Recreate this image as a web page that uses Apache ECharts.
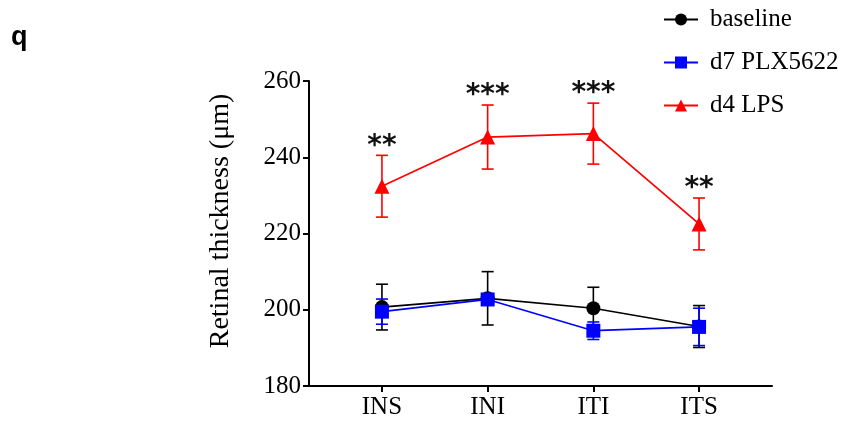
<!DOCTYPE html>
<html><head><meta charset="utf-8">
<script src="https://cdn.jsdelivr.net/npm/echarts@6/dist/echarts.min.js"></script>
<style>html,body{margin:0;padding:0;background:#fff}#c{width:843px;height:428px}</style>
</head><body><div id="c"></div>
<script>
const categories = ['INS', 'INI', 'ITI', 'ITS'];
const yTicks = [180, 200, 220, 240, 260];
const baselineMean = [200.7, 203.0, 200.4, 195.6];
const baselineErr  = [6.0, 7.0, 5.5, 5.5];
const plxMean = [199.5, 202.7, 194.5, 195.5];
const plxErr  = [3.3, 1.0, 2.3, 4.9];
const lpsMean = [232.4, 245.3, 246.2, 222.5];
const lpsErr  = [8.1, 8.4, 8.0, 6.8];
const lpsStars = ['**', '***', '***', '**'];
const yTitle = 'Retinal thickness (μm)';

const SERIF = '"Liberation Serif", "Times New Roman", serif';
const chart = echarts.init(document.getElementById('c'), null, {renderer: 'canvas'});

function pts(arr) { return arr.map((v, i) => [i, v]); }
function errSeries(name, mean, err, color, stars) {
  return {
    type: 'custom', name: name, z: 1,
    data: mean.map((m, i) => [i, m, err[i]]),
    renderItem: function (params, api) {
      const i = api.value(0), m = api.value(1), e = api.value(2);
      const top = api.coord([i, m + e]);
      const bot = api.coord([i, m - e]);
      const hw = 6;
      const style = {stroke: color, lineWidth: 1.6};
      const children = [
        {type: 'line', shape: {x1: top[0], y1: top[1], x2: bot[0], y2: bot[1]}, style: style},
        {type: 'line', shape: {x1: top[0] - hw, y1: top[1], x2: top[0] + hw, y2: top[1]}, style: style},
        {type: 'line', shape: {x1: bot[0] - hw, y1: bot[1], x2: bot[0] + hw, y2: bot[1]}, style: style}
      ];
      if (stars) {
        children.push({type: 'text', x: top[0], y: top[1] + 5,
          style: {text: stars[params.dataIndex], fill: '#111', font: 'bold 28px "DejaVu Sans"',
            align: 'center', verticalAlign: 'bottom'}});
      }
      return {type: 'group', children: children};
    }
  };
}
function lineSeries(name, mean, color, symbol, size) {
  return {
    type: 'line', name: name, z: 3, data: pts(mean),
    symbol: symbol, symbolSize: size, showAllSymbol: true,
    lineStyle: {color: color, width: 1.7},
    itemStyle: {color: color},
    emphasis: {disabled: true}
  };
}

chart.setOption({
  animation: false,
  backgroundColor: '#fff',
  graphic: [
    {type: 'text', left: 11, top: 24, style: {text: 'q', font: 'bold 27px "Liberation Sans", Arial', fill: '#000'}},
    {type: 'text', x: 221, y: 221, rotation: Math.PI / 2,
      style: {text: yTitle, font: '28px ' + SERIF, fill: '#000', align: 'center', verticalAlign: 'middle'}}
  ],
  legend: {
    orient: 'vertical', left: 658, top: 2, padding: 5,
    itemWidth: 34, itemHeight: 15, itemGap: 18,
    data: ['baseline', 'd7 PLX5622', 'd4 LPS'],
    textStyle: {fontFamily: SERIF, fontSize: 25, color: '#000', padding: [0, 0, 0, 7]}
  },
  grid: {left: 309, right: 71, top: 81, bottom: 42, containLabel: false},
  xAxis: {
    type: 'value', min: -0.69, max: 3.69,
    splitLine: {show: false},
    axisLine: {show: true, onZero: false, lineStyle: {color: '#000', width: 2}},
    axisTick: {show: true, customValues: [0, 1, 2, 3], length: 6, lineStyle: {color: '#000', width: 2}},
    axisLabel: {customValues: [0, 1, 2, 3], formatter: v => categories[Math.round(v)],
      fontFamily: SERIF, fontSize: 25, color: '#000', margin: 9}
  },
  yAxis: {
    type: 'value', min: yTicks[0], max: yTicks[yTicks.length - 1], interval: 20,
    splitLine: {show: false},
    axisLine: {show: true, onZero: false, lineStyle: {color: '#000', width: 2}},
    axisTick: {show: true, length: 6, lineStyle: {color: '#000', width: 2}},
    axisLabel: {fontFamily: SERIF, fontSize: 25, color: '#000', margin: 8}
  },
  series: [
    errSeries('baseline_err', baselineMean, baselineErr, '#000', null),
    errSeries('plx_err', plxMean, plxErr, '#0000ff', null),
    errSeries('lps_err', lpsMean, lpsErr, '#ff0000', lpsStars),
    lineSeries('baseline', baselineMean, '#000', 'circle', 14),
    lineSeries('d7 PLX5622', plxMean, '#0000ff', 'rect', 14),
    lineSeries('d4 LPS', lpsMean, '#ff0000', 'triangle', 15)
  ]
});
</script></body></html>
